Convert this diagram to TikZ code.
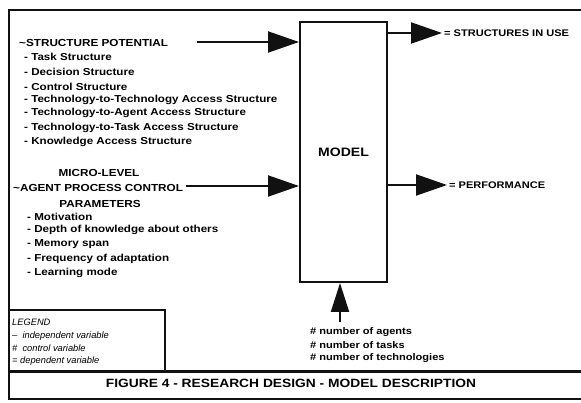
\documentclass[tikz,border=0pt]{standalone}
\usepackage{fontspec}
\setmainfont{Liberation Sans}
\newfontfamily\widesans[FakeStretch=1.15]{Liberation Sans}
\usepackage{tikz}
\usetikzlibrary{arrows.meta,positioning,calc}
\definecolor{ink}{HTML}{111111}
\tikzset{
  modelbox/.style={rectangle, draw=ink, line width=2pt, minimum width=87pt, minimum height=260pt, inner sep=0pt, font=\widesans\bfseries\fontsize{12.2}{14}\selectfont},
  head/.style={anchor=west, inner sep=0pt, font=\widesans\bfseries\fontsize{10.2}{12}\selectfont},
  item/.style={anchor=west, inner sep=0pt, font=\widesans\bfseries\fontsize{10.1}{12}\selectfont},
  result/.style={anchor=west, inner sep=0pt, font=\widesans\bfseries\fontsize{9.6}{11}\selectfont},
  legendtxt/.style={anchor=west, inner sep=0pt, font=\itshape\fontsize{9.3}{11}\selectfont},
  caption/.style={inner sep=0pt, font=\widesans\bfseries\fontsize{12}{14}\selectfont},
  fatarrow/.style={-{Triangle[length=31pt, width=21pt]}, line width=2pt, draw=ink, fill=ink},
  frameline/.style={draw=ink, line width=2pt}
}

\begin{document}
\begin{tikzpicture}[x=1pt, y=-1pt]
  \useasboundingbox (0,0) rectangle (581,403);
  % frame
  \draw[frameline] (581,10) -- (9,10) -- (9,399) -- (581,399);
  \draw[draw=ink, line width=3pt] (9,371) -- (581,371);
  \draw[frameline] (9,310) -- (165,310) -- (165,371);

  % model
  \node[modelbox] (model) at (343.5,152) {MODEL};

  % structure potential
  \node[head] (sp) at (19,43) {\textasciitilde STRUCTURE POTENTIAL};
  \node[item] (task) at (24,57) {- Task Structure};
  \node[item] (decision) at (24,72) {- Decision Structure};
  \node[item] (control) at (24,87) {- Control Structure};
  \node[item] (techtech) at (24,100) {- Technology-to-Technology Access Structure};
  \node[item] (techagent) at (24,113) {- Technology-to-Agent Access Structure};
  \node[item] (techtask) at (24,128) {- Technology-to-Task Access Structure};
  \node[item] (knowledge) at (24,142) {- Knowledge Access Structure};

  % agent process control
  \node[head, anchor=center] (micro) at (99,173) {MICRO-LEVEL};
  \node[head] (apc) at (13,188) {\textasciitilde AGENT PROCESS CONTROL};
  \node[head, anchor=center] (params) at (100,204) {PARAMETERS};
  \node[item] (motivation) at (27,217) {- Motivation};
  \node[item] (depth) at (27,230) {- Depth of knowledge about others};
  \node[item] (memory) at (27,244) {- Memory span};
  \node[item] (frequency) at (27,259) {- Frequency of adaptation};
  \node[item] (learning) at (27,273) {- Learning mode};

  % outputs
  \node[result] (siu) at (444,33) {= STRUCTURES IN USE};
  \node[result] (perf) at (449,185) {= PERFORMANCE};

  % controls
  \node[result] (agents) at (310,332) {\# number of agents};
  \node[result] (tasks) at (310,345) {\# number of tasks};
  \node[result] (techs) at (310,358) {\# number of technologies};

  % legend
  \node[legendtxt] (legend) at (12,322) {LEGEND};
  \node[legendtxt] (indep) at (12,336) {--\ \ independent variable};
  \node[legendtxt] (ctrl) at (12,348) {\#\ \ control variable};
  \node[legendtxt] (dep) at (12,361) {= dependent variable};

  % caption
  \node[caption] (fig) at (291,383) {FIGURE 4 - RESEARCH DESIGN - MODEL DESCRIPTION};

  % arrows
  \coordinate (in1) at (197,42);
  \coordinate (in2) at (186,186);
  \coordinate (cv) at (340,322);
  \draw[fatarrow] (in1) -- (in1 -| model.west);
  \draw[fatarrow] (in2) -- (in2 -| model.west);
  \draw[fatarrow] (model.east |- siu.west) -- ([xshift=-2pt]siu.west);
  \draw[fatarrow] (model.east |- perf.west) -- ([xshift=-2pt]perf.west);
  \draw[fatarrow, -{Triangle[length=29pt, width=18pt]}] (cv) -- (cv |- model.south);
\end{tikzpicture}
\end{document}
